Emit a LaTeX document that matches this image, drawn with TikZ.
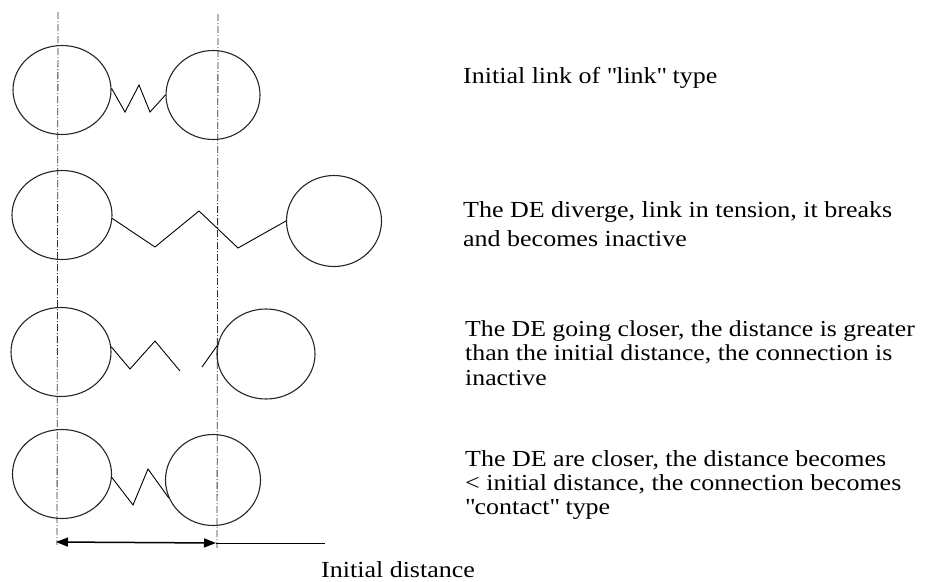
\documentclass[tikz,border=0pt]{standalone}
\usepackage{fontspec}
\setmainfont{Liberation Serif}[FakeStretch=1.13]
\usetikzlibrary{shapes.geometric,arrows.meta}
\begin{document}
\begin{tikzpicture}[x=1pt,y=-1pt,
  ball/.style={draw=black!85,line width=1.1pt,ellipse,inner sep=0pt},
  spring/.style={draw=black,line width=0.9pt,line join=miter},
  axis/.style={draw=black!80,line width=0.8pt,dash pattern=on 7pt off 2pt on 1pt off 2pt},
  lbl/.style={anchor=base west,align=left,inner sep=0pt,font=\fontsize{23}{24.5}\selectfont},
  dimline/.style={draw=black,line width=1.5pt,{Triangle[length=12pt,width=9pt]}-{Triangle[length=12pt,width=9pt]}}
]
\useasboundingbox (0,0) rectangle (934,581);
% axes
\coordinate (axL1) at (58,12);
\coordinate (axL2) at (57,545);
\coordinate (axR1) at (218,14);
\coordinate (axR2) at (217,548);
\draw[axis] (axL1) -- (axL2);
\draw[axis] (axR1) -- (axR2);
% row 1
\node[ball,minimum width=98pt,minimum height=89pt] (a1) at (62,90) {};
\node[ball,minimum width=94pt,minimum height=89pt] (b1) at (213,95) {};
\draw[spring] (a1.2) -- (125,112) -- (139,85) -- (150,112) -- (b1.west);
% row 2
\node[ball,minimum width=100pt,minimum height=89pt] (a2) at (62,215) {};
\node[ball,minimum width=95pt,minimum height=91pt] (b2) at (334,221) {};
\draw[spring] (a2.-4) -- (155,247) -- (199,211) -- (238,248) -- (b2.west);
% row 3
\node[ball,minimum width=100pt,minimum height=89pt] (a3) at (61,352) {};
\node[ball,minimum width=98pt,minimum height=90pt] (b3) at (266,354) {};
\coordinate (brk) at (180,371);
\coordinate (brk2) at (202,367);
\draw[spring] (a3.6) -- (130,369) -- (155,341) -- (brk);
\draw[spring] (brk2) -- (b3.170);
% row 4
\node[ball,minimum width=99pt,minimum height=89pt] (a4) at (62,474) {};
\node[ball,minimum width=95pt,minimum height=91pt] (b4) at (213,480) {};
\draw[spring] (a4.-4) -- (133,505) -- (148,469) -- (b4.-158);
% dimension
\coordinate (dL) at (56,542);
\coordinate (dR) at (216,543);
\coordinate (dE) at (325,543);
\draw[dimline] (dL) -- (dR);
\draw[black,line width=0.6pt] (dR) -- (dE);
% labels (anchored at the baseline of the last line)
\node[lbl] (t1) at (463,83) {Initial link of \textquotedbl link\textquotedbl{} type};
\node[lbl,font=\fontsize{23}{29}\selectfont] (t2) at (463,246) {The DE diverge, link in tension, it breaks\\and becomes inactive};
\node[lbl,font=\fontsize{22.8}{24.5}\selectfont] (t3) at (465,385) {The DE going closer, the distance is greater\\than the initial distance, the connection is\\inactive};
\node[lbl,font=\fontsize{23}{23.7}\selectfont] (t4) at (465,514) {The DE are closer, the distance becomes\\\textless{} initial distance, the connection becomes\\\textquotedbl contact\textquotedbl{} type};
\node[lbl] (t5) at (321,577) {Initial distance};
\end{tikzpicture}
\end{document}
